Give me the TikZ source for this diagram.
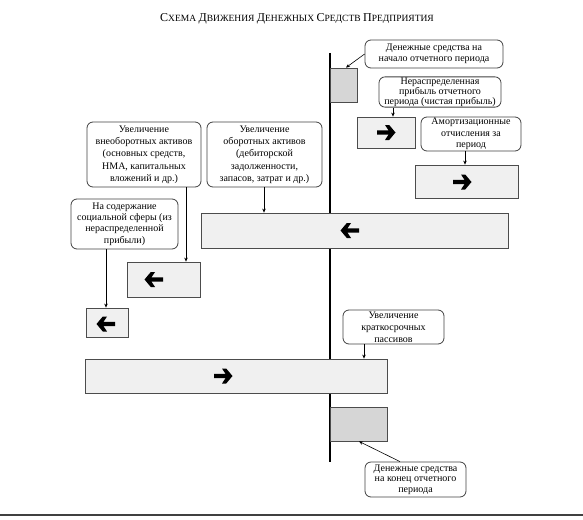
\documentclass[tikz,border=0pt]{standalone}
\usepackage{fontspec}
\setmainfont{Liberation Serif}
\usetikzlibrary{arrows.meta}
\newcommand\mysc[2]{{\fontsize{12}{12}\selectfont #1}{\fontsize{9.5}{9.5}\selectfont #2}}
\begin{document}
\begin{tikzpicture}[x=1pt,y=-1pt,
 callout/.style={draw=black!75, line width=0.8pt, rounded corners=6pt, align=center, inner sep=1pt, font=\fontsize{10}{10.5}\selectfont, text=black},
 graybox/.style={draw=black!70, line width=0.8pt, fill=black!16, inner sep=0pt},
 lightbox/.style={draw=black!70, line width=0.8pt, fill=black!6, inner sep=0pt},
 conn/.style={draw=black, line width=0.6pt, -{Stealth[length=4pt,width=3.5pt]}},
 axisline/.style={draw=black, line width=2.2pt},
 bigarrow/.pic={\fill[black] (-9,-2.2)--(2.5,-2.2)--(-1,-7.5)--(3.2,-7.5)--(9.5,0)--(3.2,7.5)--(-1,7.5)--(2.5,2.2)--(-9,2.2)--cycle;}
]
\useasboundingbox (0,0) rectangle (583,519);
% title
\node (title) at (297,19) {\mysc{С}{ХЕМА} \mysc{Д}{ВИЖЕНИЯ} \mysc{Д}{ЕНЕЖНЫХ} \mysc{С}{РЕДСТВ} \mysc{П}{РЕДПРИЯТИЯ}};
% vertical axis
\coordinate (vtop) at (330,53);
\coordinate (vbot) at (330,462);
\draw[axisline] (vtop) -- (vbot);
% boxes
\node[graybox, minimum width=27pt, minimum height=34pt] (gb1) at (343.5,85) {};
\node[lightbox, minimum width=58pt, minimum height=31pt] (b4) at (386,132.5) {};
\node[lightbox, minimum width=103pt, minimum height=33pt] (b6) at (466.5,181.5) {};
\node[lightbox, minimum width=307pt, minimum height=35pt] (b9) at (354.5,230.5) {};
\node[lightbox, minimum width=73pt, minimum height=35pt] (b11) at (163.5,279.5) {};
\node[lightbox, minimum width=42pt, minimum height=29pt] (b12) at (107,322.5) {};
\node[lightbox, minimum width=302pt, minimum height=34pt] (b14) at (236,376) {};
\node[graybox, minimum width=57pt, minimum height=34pt] (gb2) at (358.5,424) {};
% arrows inside boxes
\pic at (386,132.5) {bigarrow};
\pic at (462,182) {bigarrow};
\pic[xscale=-1] at (350,230.5) {bigarrow};
\pic[xscale=-1] at (154,279.5) {bigarrow};
\pic[xscale=-1] at (106,324) {bigarrow};
\pic at (223,376) {bigarrow};
% callouts
\node[callout, minimum width=138pt, minimum height=28pt] (n2) at (434,54) {Денежные средства на\\начало отчетного периода};
\node[callout, minimum width=122pt, minimum height=30pt, font=\fontsize{10}{9.8}\selectfont] (n3) at (440,92) {Нераспределенная\\прибыль отчетного\\периода (чистая прибыль)};
\node[callout, minimum width=100pt, minimum height=34pt, font=\fontsize{10}{11.3}\selectfont] (n5) at (471,134) {Амортизационные\\отчисления за\\период};
\node[callout, minimum width=114pt, minimum height=65pt, font=\fontsize{10}{12.3}\selectfont] (n7) at (144,154.5) {Увеличение\\внеоборотных активов\\(основных средств,\\НМА, капитальных\\вложений и др.)};
\node[callout, minimum width=115pt, minimum height=65pt, font=\fontsize{10}{12.3}\selectfont] (n8) at (264.5,154.5) {Увеличение\\оборотных активов\\(дебиторской\\задолженности,\\запасов, затрат и др.)};
\node[callout, minimum width=107pt, minimum height=50pt, font=\fontsize{10}{11.3}\selectfont] (n10) at (124.5,224) {На содержание\\социальной сферы (из\\нераспределенной\\прибыли)};
\node[callout, minimum width=101pt, minimum height=34pt, font=\fontsize{10}{11.8}\selectfont] (n13) at (393.5,327) {Увеличение\\краткосрочных\\пассивов};
\node[callout, minimum width=101pt, minimum height=35pt] (n16) at (415.5,479.5) {Денежные средства\\на конец отчетного\\периода};
% connectors
\draw[conn] (n2.west) -- (346,0 |- gb1.north);
\draw[conn] (393,0 |- n3.south) -- (393,0 |- b4.north);
\draw[conn] (465,0 |- n5.south) -- (465,0 |- b6.north);
\draw[conn] (186,0 |- n7.south) -- (186,0 |- b11.north);
\draw[conn] (264,0 |- n8.south) -- (264,0 |- b9.north);
\draw[conn] (106,0 |- n10.south) -- (106,0 |- b12.north);
\draw[conn] (364,0 |- n13.south) -- (364,0 |- b14.north);
\draw[conn] (400,0 |- n16.north) -- (359,0 |- gb2.south);
% bottom rule
\coordinate (rl) at (0,515);
\coordinate (rr) at (583,515);
\draw[black!75, line width=1.5pt] (rl) -- (rr);
\end{tikzpicture}
\end{document}
